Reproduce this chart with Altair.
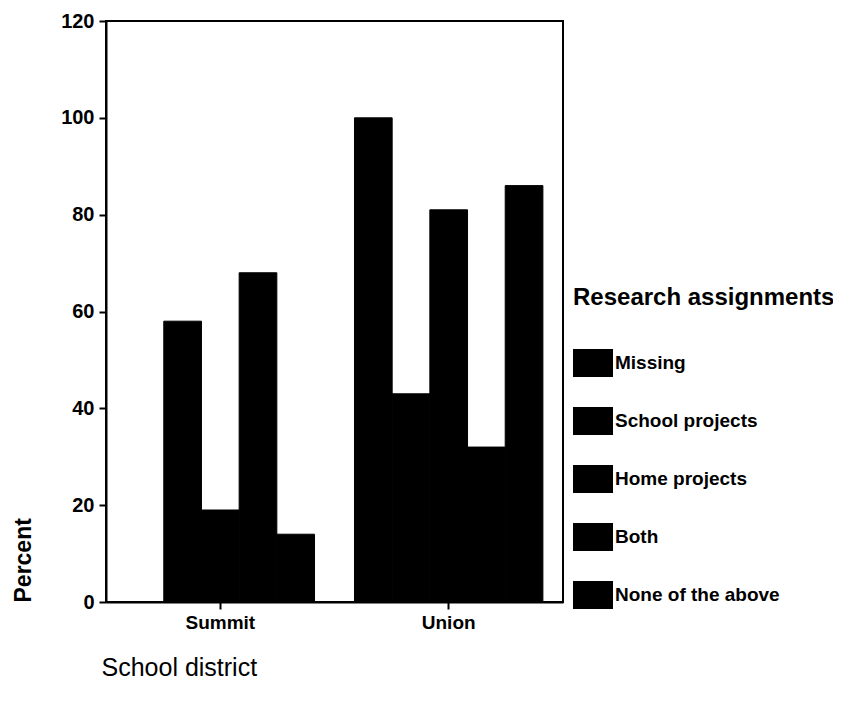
import altair as alt
import pandas as pd

districts = ["Summit", "Union"]
assignments = ["Missing", "School projects", "Home projects", "Both", "None of the above"]
summit_values = [0, 58, 19, 68, 14]
union_values = [100, 43, 81, 32, 86]
y_ticks = [0, 20, 40, 60, 80, 100, 120]

rows = []
for d, vals in zip(districts, [summit_values, union_values]):
    for a, v in zip(assignments, vals):
        rows.append({"district": d, "assignment": a, "percent": v})
df = pd.DataFrame(rows)

FONT = "Liberation Sans"

chart = alt.Chart(df).mark_bar(color="black", stroke="black", strokeWidth=1).encode(
    x=alt.X(
        "district:N",
        sort=districts,
        scale=alt.Scale(paddingInner=0.175, paddingOuter=0.088),
        axis=alt.Axis(
            title="School district",
            labelAngle=0,
            labelFont=FONT,
            labelFontSize=19,
            labelFontWeight="bold",
            labelColor="black",
            labelPadding=4,
            tickSize=7,
            titleFont=FONT,
            titleFontSize=25,
            titleFontWeight="normal",
            titleColor="black",
            titleX=-5,
            titleY=73,
            titleAlign="left",
            titleBaseline="alphabetic",
        ),
    ),
    xOffset=alt.XOffset("assignment:N", sort=assignments),
    y=alt.Y(
        "percent:Q",
        scale=alt.Scale(domain=[0, 120], nice=False),
        axis=alt.Axis(
            title="Percent",
            values=y_ticks,
            grid=False,
            labelFont=FONT,
            labelFontSize=20,
            labelFontWeight="bold",
            labelColor="black",
            labelPadding=5,
            tickSize=7,
            titleFont=FONT,
            titleFontSize=23,
            titleFontWeight="bold",
            titleColor="black",
            titleAngle=270,
            titleX=-83,
            titleY=581,
            titleAlign="left",
            titleBaseline="middle",
        ),
    ),
    color=alt.Color(
        "assignment:N",
        sort=assignments,
        scale=alt.Scale(domain=assignments, range=["black"] * 5),
        legend=alt.Legend(
            title="Research assignments",
            orient="none",
            legendX=467,
            legendY=265,
            padding=0,
            titleFont=FONT,
            titleFontSize=24,
            titleFontWeight="bold",
            titleColor="black",
            titlePadding=33,
            titleLimit=400,
            labelFont=FONT,
            labelFontSize=19,
            labelFontWeight="bold",
            labelColor="black",
            labelOffset=2,
            labelLimit=300,
            symbolType="M-1,-0.7H1V0.7H-1Z",
            symbolSize=1600,
            symbolFillColor="black",
            symbolStrokeWidth=0,
            symbolOpacity=1,
            rowPadding=24,
        ),
    ),
).properties(
    width=457,
    height=581,
    autosize=alt.AutoSizeParams(type="none"),
    padding={"left": 98, "top": 13, "right": 270, "bottom": 96},
).configure_view(
    stroke="black", strokeWidth=2
).configure_axis(
    domainColor="black", domainWidth=2, tickColor="black", tickWidth=2
)

chart.save("out.html", embed_options={"renderer": "svg", "actions": False})
